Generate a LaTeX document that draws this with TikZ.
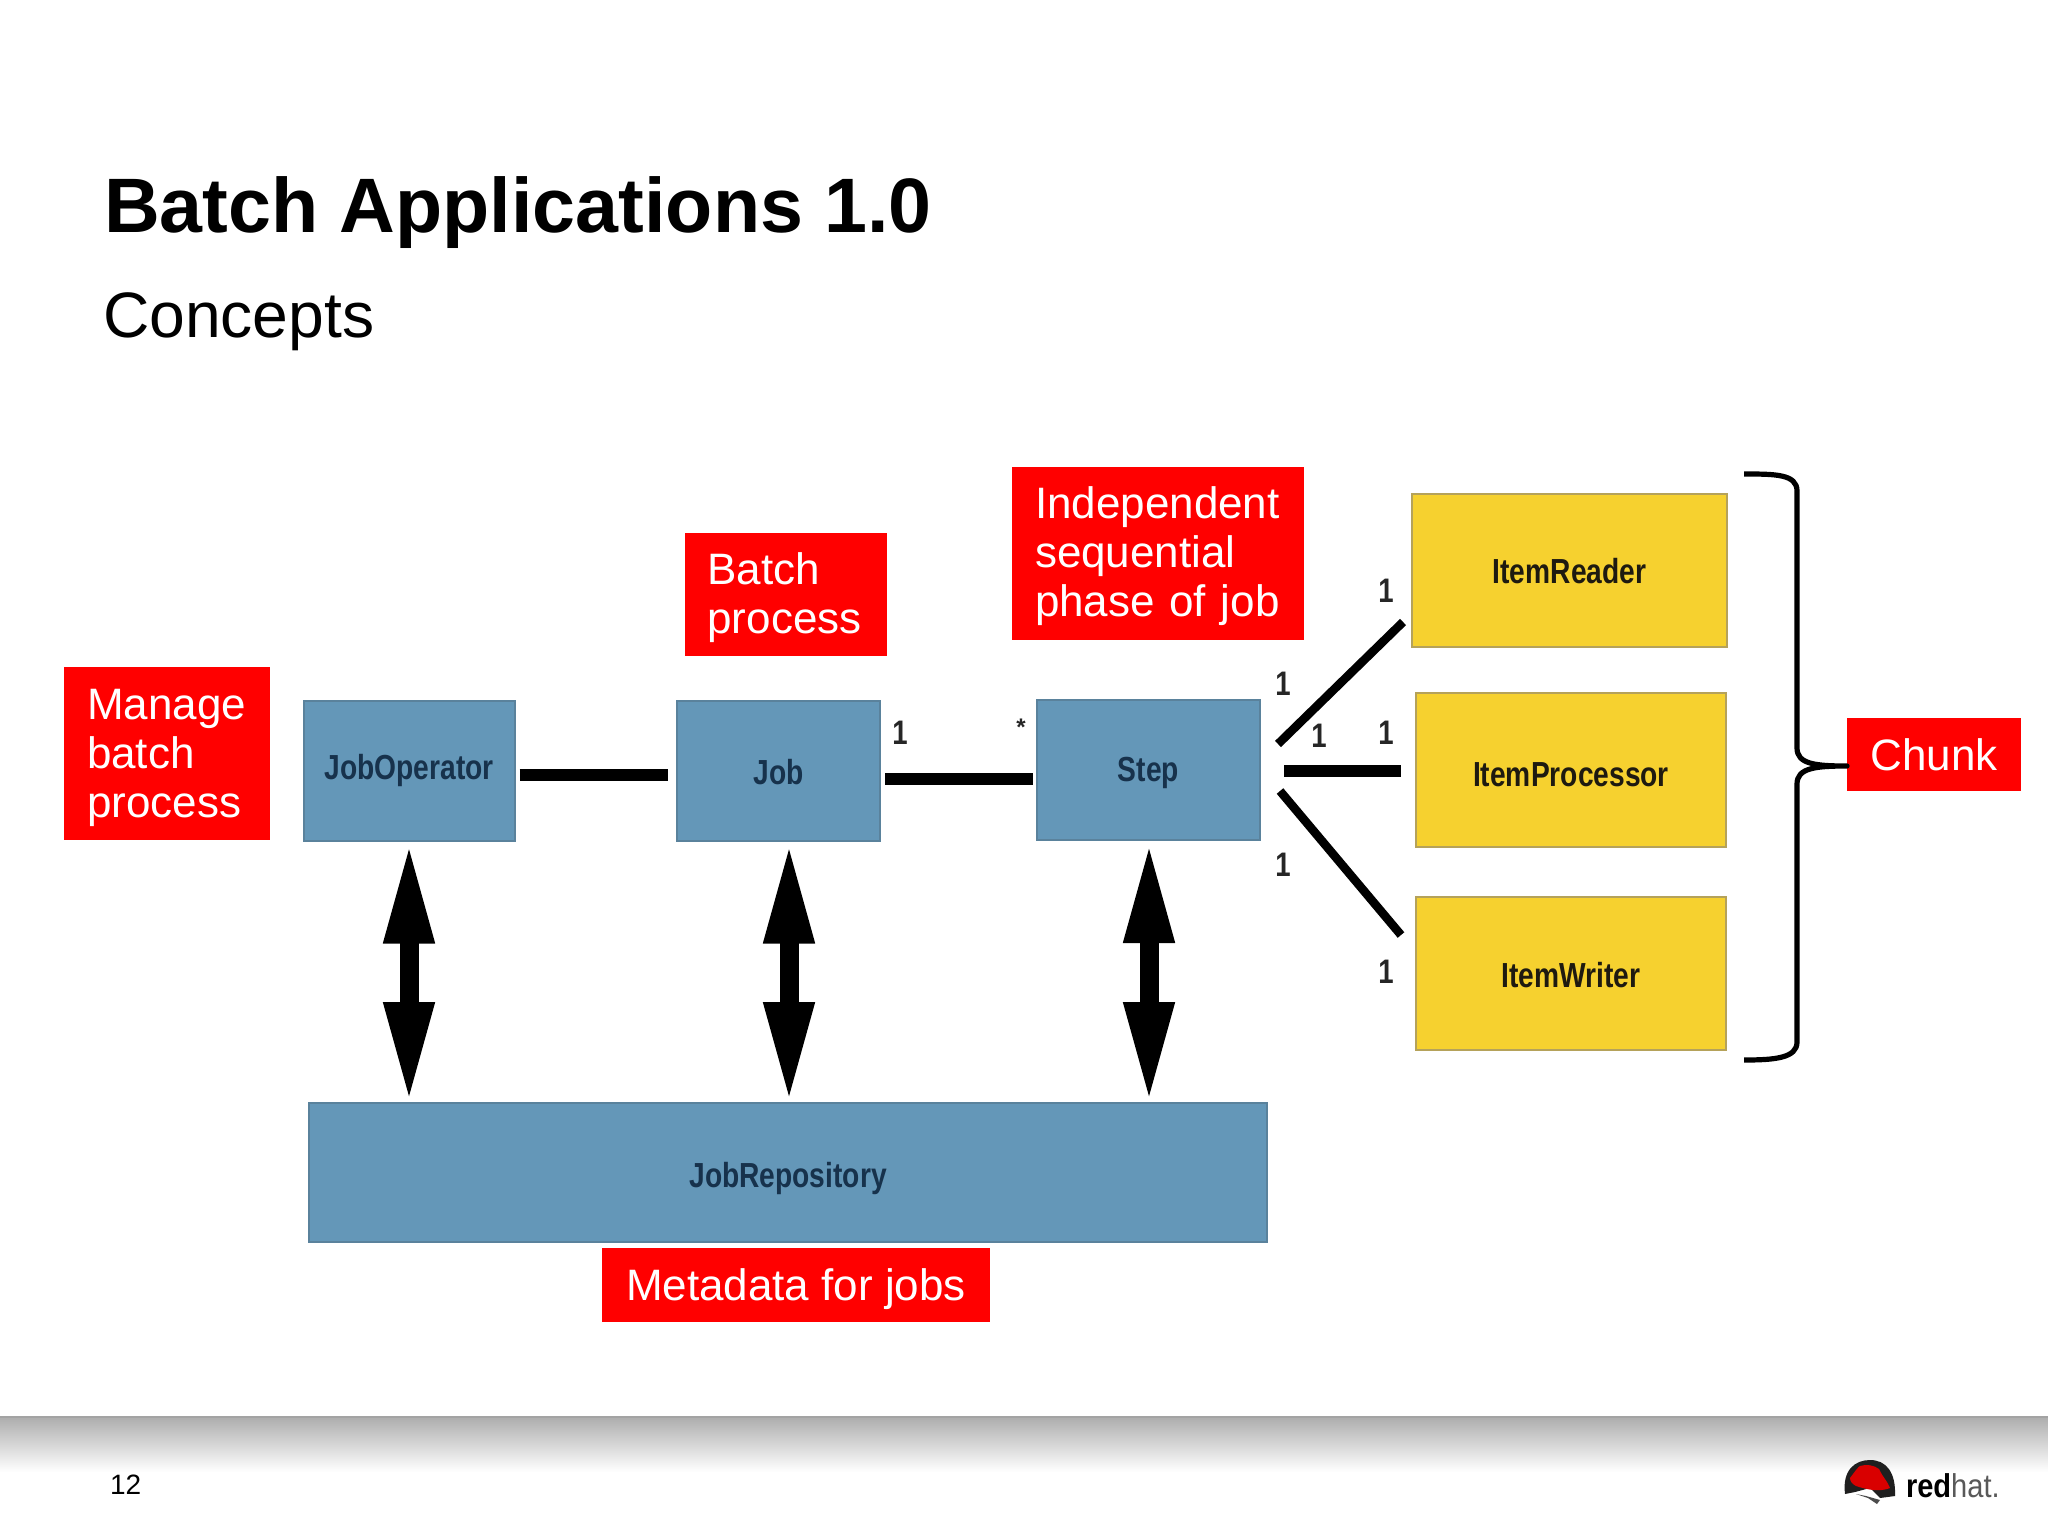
\documentclass[tikz,border=0pt]{standalone}
\usepackage{fontspec}
\setmainfont{Liberation Sans}
\usetikzlibrary{arrows.meta,calc}
\definecolor{boxblue}{HTML}{6497B8}
\definecolor{boxblueline}{HTML}{5A829C}
\definecolor{boxyellow}{HTML}{F6D12F}
\definecolor{boxyellowline}{HTML}{B5A25A}
\definecolor{labelnavy}{HTML}{17324C}
\definecolor{labelblack}{HTML}{1E1A10}
\newcommand{\narrowtext}[2][0pt]{\raisebox{#1}{\scalebox{0.81}[1]{#2}}}
\tikzset{
  every node/.style={inner sep=0pt,outer sep=0pt},
  flowbox/.style={draw,line width=1pt,rectangle,font=\fontsize{17.4}{20}\selectfont\bfseries,text height=13pt,text depth=4pt},
  bluebox/.style={flowbox,fill=boxblue,draw=boxblueline,text=labelnavy},
  yellowbox/.style={flowbox,fill=boxyellow,draw=boxyellowline,text=labelblack},
  redbox/.style={fill=red,text=white,rectangle,font=\fontsize{22}{24.5}\selectfont,inner xsep=11.5pt,align=left},
  redsingle/.style={fill=red,text=white,rectangle,font=\fontsize{22}{24.5}\selectfont},
  multi/.style={font=\fontsize{17}{20}\selectfont\bfseries,text=black!85},
  thickconn/.style={line width=6pt,black},
  armconn/.style={line width=4.3pt,black},
  duplex/.style={line width=9.5pt,black,{Triangle[length=51pt,width=23pt]}-{Triangle[length=51pt,width=23pt]},shorten <=0.5pt,shorten >=-0.5pt},
}
\begin{document}
\begin{tikzpicture}[x=0.5pt,y=-0.5pt]
\useasboundingbox (0,0) rectangle (2048,1536);
\fill[white] (0,0) rectangle (2048,1536);
% footer band
\shade[top color=black!32,bottom color=white] (0,1417) rectangle (2048,1472);
\draw[black!36,line width=0.8pt] (0,1417) -- (2048,1417);
% headings
\node[anchor=base west,font=\fontsize{38.6}{44}\selectfont\bfseries] (title) at (104,232) {Batch Applications 1.0};
\node[anchor=base west,font=\fontsize{32.1}{38}\selectfont] (subtitle) at (103,337) {Concepts};
\node[anchor=base west,font=\fontsize{14}{16}\selectfont] (pageno) at (110,1494) {12};
% boxes
\node[bluebox,minimum width=105.5pt,minimum height=70pt] (op) at (409,770.5) {\narrowtext{JobOperator}};
\node[bluebox,minimum width=101.5pt,minimum height=70pt] (job) at (778.5,770.5) {\narrowtext[-2.5pt]{Job}};
\node[bluebox,minimum width=111.5pt,minimum height=70pt] (step) at (1148.5,770) {\narrowtext[-1pt]{Step}};
\node[bluebox,minimum width=479pt,minimum height=69.5pt] (repo) at (788,1172.5) {\narrowtext[-3pt]{JobRepository}};
\node[yellowbox,minimum width=157.5pt,minimum height=76.5pt] (reader) at (1569.5,570.5) {\narrowtext[-1.75pt]{ItemReader}};
\node[yellowbox,minimum width=155pt,minimum height=77pt] (proc) at (1571,770) {\narrowtext[-3.5pt]{ItemProcessor}};
\node[yellowbox,minimum width=155pt,minimum height=76.5pt] (writer) at (1571,973.5) {\narrowtext[-2.25pt]{ItemWriter}};
% connectors
\draw[thickconn] ($(op.east)+(5,4.5)$) -- ($(job.west)+(-9,4.5)$);
\draw[thickconn] ($(job.east)+(5,8.5)$) -- ($(step.west)+(-4,9)$);
\draw[armconn] ($(step.east)+(18,-26)$) -- ($(reader.west)+(-9,51.5)$);
\draw[thickconn] ($(step.east)+(24,1)$) -- ($(proc.west)+(-15,1)$);
\draw[armconn] ($(step.east)+(20,21)$) -- ($(writer.west)+(-15,-38.5)$);
\draw[duplex] (op.south) -- (op.south |- repo.north);
\draw[duplex] ($(job.south)+(10.5,0)$) -- ($(job.south |- repo.north)+(10.5,0)$);
\draw[duplex] ($(step.south)+(0.5,0)$) -- ($(step.south |- repo.north)+(0.5,0)$);
% multiplicities
\node[multi] (m1) at (900,733) {\narrowtext{1}};
\node[multi,font=\fontsize{12}{14}\selectfont\bfseries] (m2) at (1021,727) {*};
\node[multi] (m3) at (1386,591) {\narrowtext{1}};
\node[multi] (m4) at (1283,684) {\narrowtext{1}};
\node[multi] (m5) at (1319,736) {\narrowtext{1}};
\node[multi] (m6) at (1386,733) {\narrowtext{1}};
\node[multi] (m7) at (1283,865) {\narrowtext{1}};
\node[multi] (m8) at (1386,972) {\narrowtext{1}};
% red callouts
\node[redbox,text width=80pt,minimum width=103pt,minimum height=86.5pt] (manage) at (167,753.5) {\rule{0pt}{19.8pt}Manage\\batch\\process};
\node[redbox,text width=78pt,minimum width=101pt,minimum height=61.5pt] (batch) at (785.5,594.5) {\rule{0pt}{19.3pt}Batch\\process};
\node[redbox,text width=123pt,minimum width=146pt,minimum height=86.5pt] (indep) at (1158,553) {\rule{0pt}{19.3pt}Independent\\sequential\\phase of job};
\node[redsingle,minimum width=194pt,minimum height=37pt,text height=20pt,text depth=4.7pt] (meta) at (796,1285) {Metadata for jobs};
\node[redsingle,minimum width=87pt,minimum height=36.5pt] (chunk) at (1934,754.5) {Chunk};
% bracket
\coordinate (brtop) at (1744,474);
\coordinate (brbot) at (1744,1060);
\draw[black,line width=2.6pt,line join=round]
  (brtop) .. controls (1775,474) and (1797,474) .. (1797,491)
  -- (1797,748) .. controls (1797,764) and (1815,766) .. ($(chunk.west)+(0,11.5)$)
  .. controls (1815,766) and (1797,768) .. (1797,784)
  -- (1797,1042) .. controls (1797,1058) and (1775,1060) .. (brbot);
% logo
\fill[black!88] (1845,1494) .. controls (1842,1470) and (1855,1460) .. (1870,1460)
  .. controls (1886,1460) and (1896,1472) .. (1895,1496) -- (1880,1498) -- (1870,1488) -- (1855,1492) -- cycle;
\fill[red!85!black] (1850,1478) .. controls (1856,1470) and (1858,1467) .. (1860,1466)
  .. controls (1866,1464) and (1874,1465) .. (1879,1469)
  .. controls (1882,1476) and (1888,1482) .. (1890,1488)
  .. controls (1880,1492) and (1868,1490) .. (1856,1486)
  .. controls (1852,1484) and (1850,1481) .. (1850,1478) -- cycle;
\fill[black!70] (1856,1494) -- (1866,1496) -- (1880,1500) -- (1877,1504) -- (1868,1498) -- cycle;
\node[anchor=base west,font=\fontsize{16.5}{18}\selectfont] (logotext) at (1906,1497) {\scalebox{0.88}[1]{\textbf{red}\textcolor{black!65}{hat.}}};
\end{tikzpicture}
\end{document}
